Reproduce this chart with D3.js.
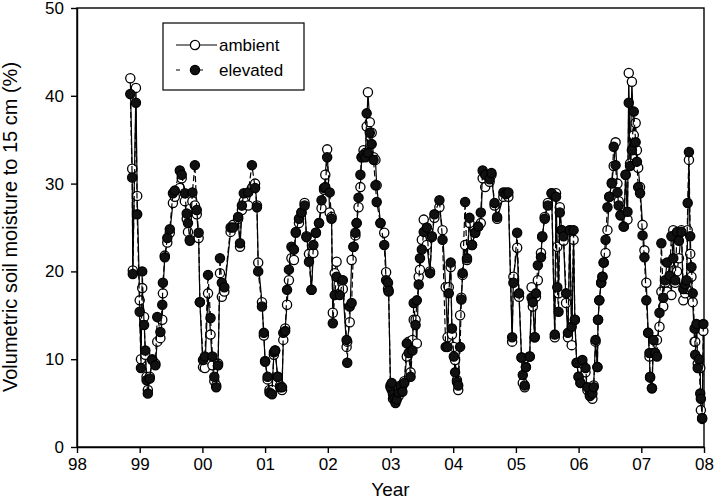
<!DOCTYPE html>
<html>
<head>
<meta charset="utf-8">
<script src="https://cdn.jsdelivr.net/npm/d3@7"></script>
<style>
  body { margin: 0; background: #fff; }
  svg { font-family: "Liberation Sans", Arial, sans-serif; }
</style>
</head>
<body>
<svg id="chart" width="714" height="501"></svg>
<script>
// Sampling dates (decimal year)
const dates = [
  1998.85, 1998.88, 1998.89, 1998.94, 1998.96,
  1999.00, 1999.02, 1999.04, 1999.07, 1999.09, 1999.11, 1999.13, 1999.16, 1999.20, 1999.25,
  1999.28, 1999.33, 1999.36, 1999.37, 1999.40, 1999.44, 1999.48, 1999.53, 1999.56, 1999.64,
  1999.67, 1999.72, 1999.75, 1999.77, 1999.80, 1999.84, 1999.88, 1999.91, 1999.94, 1999.96,
  2000.01, 2000.04, 2000.09, 2000.13, 2000.16, 2000.19, 2000.22, 2000.25, 2000.28, 2000.31,
  2000.35, 2000.45, 2000.49, 2000.57, 2000.60, 2000.63, 2000.66, 2000.73, 2000.79, 2000.84,
  2000.87, 2000.89, 2000.95, 2000.98,
  2001.00, 2001.04, 2001.07, 2001.11, 2001.14, 2001.16, 2001.20, 2001.24, 2001.27, 2001.29,
  2001.32, 2001.35, 2001.38, 2001.42, 2001.46, 2001.49, 2001.54, 2001.58, 2001.63, 2001.66,
  2001.70, 2001.74, 2001.77, 2001.81, 2001.86, 2001.90, 2001.94, 2001.96, 2001.99,
  2002.03, 2002.06, 2002.08, 2002.11, 2002.14, 2002.19, 2002.24, 2002.30, 2002.31, 2002.35,
  2002.38, 2002.41, 2002.44, 2002.46, 2002.49, 2002.52, 2002.54, 2002.57, 2002.60, 2002.62,
  2002.64, 2002.67, 2002.70, 2002.73, 2002.76, 2002.78, 2002.84, 2002.90, 2002.93, 2002.96,
  2002.97,
  2003.00, 2003.02, 2003.04, 2003.06, 2003.08, 2003.10, 2003.13, 2003.16, 2003.19, 2003.22,
  2003.26, 2003.29, 2003.32, 2003.35, 2003.37, 2003.40, 2003.42, 2003.45, 2003.47, 2003.50,
  2003.53, 2003.58, 2003.63, 2003.66, 2003.70, 2003.78, 2003.83, 2003.88, 2003.91, 2003.93,
  2003.96, 2003.98,
  2004.01, 2004.03, 2004.06, 2004.08, 2004.11, 2004.13, 2004.15, 2004.19, 2004.22, 2004.26,
  2004.30, 2004.35, 2004.40, 2004.44, 2004.47, 2004.51, 2004.58, 2004.61, 2004.66, 2004.70,
  2004.80, 2004.84, 2004.88, 2004.94, 2004.96,
  2005.02, 2005.05, 2005.09, 2005.11, 2005.14, 2005.16, 2005.22, 2005.25, 2005.27, 2005.30,
  2005.32, 2005.35, 2005.40, 2005.42, 2005.46, 2005.51, 2005.57, 2005.62, 2005.64, 2005.66,
  2005.68, 2005.70, 2005.73, 2005.76, 2005.80, 2005.83, 2005.86, 2005.89, 2005.92, 2005.94,
  2005.97,
  2006.00, 2006.03, 2006.06, 2006.11, 2006.14, 2006.18, 2006.22, 2006.24, 2006.27, 2006.30,
  2006.31, 2006.33, 2006.36, 2006.38, 2006.40, 2006.43, 2006.46, 2006.49, 2006.53, 2006.56,
  2006.59, 2006.62, 2006.64, 2006.67, 2006.72, 2006.75, 2006.78, 2006.80, 2006.82, 2006.85,
  2006.88, 2006.91, 2006.93, 2006.95, 2006.98,
  2007.02, 2007.05, 2007.08, 2007.11, 2007.13, 2007.14, 2007.17, 2007.19, 2007.22, 2007.25,
  2007.29, 2007.32, 2007.35, 2007.38, 2007.41, 2007.45, 2007.48, 2007.51, 2007.54, 2007.57,
  2007.60, 2007.64, 2007.67, 2007.70, 2007.72, 2007.74, 2007.76, 2007.78, 2007.80, 2007.82,
  2007.85, 2007.86, 2007.88, 2007.90, 2007.92, 2007.94, 2007.95, 2007.97, 2007.99
];

// Volumetric soil moisture (%), ambient CO2 plots
const ambient = [
  42.0, 31.7, 20.1, 40.9, 28.6,
  16.7, 10.0, 18.1, 14.8, 10.5, 8.0, 6.5, 8.0, 10.0, 9.5,
  12.0, 12.4, 14.5, 17.5, 21.8, 23.3, 24.4, 27.8, 28.5, 29.5,
  30.6, 28.0, 26.0, 24.5, 23.6, 28.0, 27.5, 26.5, 23.8, 16.5,
  9.1, 9.0, 17.5, 12.8, 9.3, 7.5, 7.0, 9.5, 19.8, 17.1,
  17.7, 24.5, 25.3, 26.0, 22.8, 27.0, 28.0, 27.5, 29.5, 30.0,
  27.5, 21.0, 16.5, 12.7,
  9.8, 7.7, 6.5, 6.5, 10.5, 11.0, 8.0, 7.0, 6.5, 12.2,
  13.5, 16.2, 19.0, 21.5, 21.3, 24.5, 25.5, 26.7, 27.8, 24.0,
  22.0, 17.9, 22.1, 24.4, 25.5, 27.2, 29.3, 31.0, 33.9,
  26.7, 26.2, 15.3, 19.8, 21.1, 17.5, 18.0, 11.4, 12.0, 14.2,
  21.3, 22.8, 24.1, 25.5, 27.3, 29.6, 33.0, 33.8, 33.5, 36.5,
  40.4, 37.0, 35.8, 33.0, 32.7, 29.8, 25.5, 24.4, 19.9, 18.0,
  17.7,
  7.0, 6.5, 5.5, 6.0, 5.2, 6.5, 5.8, 6.5, 7.0, 7.5,
  10.3, 12.0, 8.5, 12.2, 14.5, 14.5, 11.8, 19.4, 20.2, 23.6,
  25.9, 23.0, 20.0, 23.9, 26.1, 27.3, 24.7, 18.2, 12.5, 18.2,
  20.5, 12.8,
  11.4, 9.9, 7.6, 6.5, 15.0, 17.0, 19.6, 23.0, 21.3, 25.5,
  23.0, 24.4, 25.1, 25.5, 30.6, 29.6, 30.2, 31.0, 27.5, 26.0,
  28.5, 29.0, 28.5, 12.0, 19.4,
  22.7, 17.1, 10.2, 7.3, 6.8, 9.1, 10.3, 18.2, 16.0, 12.5,
  17.1, 19.0, 22.1, 23.9, 26.2, 27.8, 28.9, 12.5, 28.9, 22.8,
  17.5, 27.3, 24.7, 23.5, 16.4, 12.5, 24.7, 11.6, 23.6, 14.5,
  9.6,
  8.0, 7.3, 9.5, 8.5, 6.5, 6.0, 5.5, 7.0, 12.0, 9.1,
  14.5, 16.7, 18.7, 19.4, 21.0, 22.1, 24.7, 28.5, 30.1, 32.0,
  34.7, 30.0, 28.0, 26.4, 25.1, 31.0, 25.9, 42.6, 32.3, 41.6,
  35.5, 36.9, 33.8, 31.8, 29.6,
  25.3, 22.4, 18.7, 13.0, 10.3, 7.9, 6.7, 10.7, 10.7, 12.2,
  13.7, 17.7, 16.0, 18.7, 17.7, 21.0, 17.3, 24.7, 18.7, 20.0,
  21.5, 24.7, 16.7, 17.5, 18.0, 24.7, 32.7, 22.0, 19.4, 16.5,
  12.0, 12.0, 13.5, 9.5, 9.0, 9.0, 4.2, 3.2, 13.2
];

// Volumetric soil moisture (%), elevated CO2 plots
const elevated = [
  40.2, 30.7, 19.7, 39.2, 26.5,
  15.4, 9.0, 20.0, 13.9, 11.0, 7.6, 6.1, 7.8, 9.9, 9.3,
  14.8, 13.1, 16.2, 18.7, 21.6, 23.8, 24.8, 28.9, 29.2, 31.5,
  31.0, 28.9, 26.6, 25.5, 23.5, 29.0, 32.1, 27.0, 24.4, 16.5,
  9.9, 10.3, 19.6, 14.7, 10.3, 8.0, 6.8, 9.3, 21.5, 18.7,
  18.2, 25.0, 25.0, 26.2, 23.2, 27.5, 28.9, 29.0, 32.1, 29.5,
  27.3, 20.0, 16.0, 13.0,
  9.7, 8.0, 6.2, 6.0, 10.8, 11.0, 8.0, 6.8, 6.8, 13.0,
  13.2, 17.9, 20.2, 22.8, 22.5, 24.4, 26.0, 26.7, 27.5, 23.9,
  21.1, 17.9, 23.0, 24.4, 25.5, 28.1, 29.5, 29.6, 33.0,
  29.0, 26.0, 14.1, 17.3, 19.4, 17.3, 19.0, 12.2, 9.6, 16.0,
  16.4, 22.8, 24.4, 25.5, 28.4, 31.0, 33.0, 33.3, 33.0, 38.0,
  33.5, 35.8, 34.5, 32.7, 29.8, 27.9, 25.5, 23.0, 19.0, 18.7,
  17.8,
  6.8, 7.3, 6.0, 5.5, 5.0, 5.4, 6.2, 7.0, 6.3, 7.3,
  11.8, 10.7, 8.0, 11.0, 16.4, 13.9, 16.7, 18.5, 21.5, 22.5,
  24.5, 25.0, 19.8, 24.0, 26.5, 28.1, 23.6, 11.4, 11.4, 17.5,
  21.0, 13.5,
  10.3, 8.5, 7.4, 7.0, 11.4, 16.8, 19.8, 27.9, 21.5, 26.1,
  23.0, 24.4, 25.1, 26.7, 31.5, 31.0, 30.5, 31.2, 27.8, 26.2,
  29.0, 28.8, 29.0, 12.5, 18.7,
  24.4, 17.5, 10.2, 8.2, 7.0, 9.1, 10.3, 17.0, 16.5, 12.5,
  17.5, 20.7, 21.6, 24.0, 26.0, 27.5, 28.9, 12.8, 28.5, 18.2,
  15.4, 26.7, 24.7, 24.0, 17.5, 13.0, 24.7, 13.7, 24.7, 14.5,
  9.6,
  8.0, 7.3, 9.9, 9.0, 6.8, 5.8, 6.1, 6.8, 12.2, 9.1,
  14.5, 16.7, 18.7, 19.4, 21.0, 23.6, 27.3, 28.5, 30.0, 34.2,
  32.1, 29.0, 27.5, 26.4, 25.1, 31.0, 26.8, 39.2, 32.0, 33.8,
  38.2, 34.7, 32.5, 29.6, 28.9,
  24.1, 21.6, 16.7, 13.0, 10.7, 8.0, 6.7, 12.2, 10.7, 10.3,
  15.3, 23.2, 17.0, 19.0, 21.0, 19.5, 24.0, 21.5, 19.0, 24.5,
  23.5, 24.5, 18.0, 18.5, 19.0, 27.8, 33.6, 24.0, 20.5, 17.5,
  13.5, 10.5, 14.0, 9.0, 10.0, 6.1, 5.5, 3.3, 14.0
];

// Axis ticks
const xTickYears = [1998, 1999, 2000, 2001, 2002, 2003, 2004, 2005, 2006, 2007, 2008];
const xTickLabels = ["98", "99", "00", "01", "02", "03", "04", "05", "06", "07", "08"];
const yTicks = [0, 10, 20, 30, 40, 50];
const seriesNames = ["ambient", "elevated"];

const svg = d3.select("#chart");
const plotLeft = 77, plotRight = 704, plotTop = 8, plotBottom = 447;

const x = d3.scaleLinear().domain([1998, 2008]).range([plotLeft, plotRight]);
const y = d3.scaleLinear().domain([0, 50]).range([plotBottom, plotTop]);

// frame
svg.append("rect")
  .attr("x", plotLeft).attr("y", plotTop)
  .attr("width", plotRight - plotLeft).attr("height", plotBottom - plotTop)
  .attr("fill", "none").attr("stroke", "#000").attr("stroke-width", 1.4);

const xAxis = svg.append("g")
  .attr("transform", `translate(0,${plotBottom})`)
  .call(d3.axisBottom(x).tickValues(xTickYears)
    .tickFormat((d, i) => xTickLabels[i]).tickSize(6).tickSizeOuter(0).tickPadding(5));
xAxis.select(".domain").attr("stroke-width", 1.4);
xAxis.selectAll(".tick line").attr("stroke-width", 1.4);
xAxis.selectAll("text").attr("font-size", 17).attr("font-family", "Liberation Sans, Arial, sans-serif").attr("fill", "#000");

const yAxis = svg.append("g")
  .attr("transform", `translate(${plotLeft},0)`)
  .call(d3.axisLeft(y).tickValues(yTicks).tickSize(6).tickSizeOuter(0).tickPadding(7));
yAxis.select(".domain").attr("stroke-width", 1.4);
yAxis.selectAll(".tick line").attr("stroke-width", 1.4);
yAxis.selectAll("text").attr("font-size", 17).attr("font-family", "Liberation Sans, Arial, sans-serif").attr("fill", "#000");

// axis titles
svg.append("text")
  .attr("x", (plotLeft + plotRight) / 2).attr("y", 496)
  .attr("text-anchor", "middle").attr("font-size", 19)
  .text("Year");
svg.append("text")
  .attr("transform", `translate(17,227) rotate(-90)`)
  .attr("text-anchor", "middle").attr("font-size", 20)
  .text("Volumetric soil moisture to 15 cm (%)");

const ambData = dates.map((d, i) => ({ t: d, v: ambient[i] }));
const eleData = dates.map((d, i) => ({ t: d, v: elevated[i] }));

const line = d3.line().x(d => x(d.t)).y(d => y(d.v));
const r = 4.6;

// ambient: solid line, open circles
svg.append("path").datum(ambData)
  .attr("d", line).attr("fill", "none").attr("stroke", "#000").attr("stroke-width", 1.2);
svg.append("g").selectAll("circle").data(ambData).enter().append("circle")
  .attr("cx", d => x(d.t)).attr("cy", d => y(d.v)).attr("r", r)
  .attr("fill", "#fff").attr("stroke", "#000").attr("stroke-width", 1.3);

// elevated: dashed line, filled circles
svg.append("path").datum(eleData)
  .attr("d", line).attr("fill", "none").attr("stroke", "#000").attr("stroke-width", 1.2)
  .attr("stroke-dasharray", "6,3");
svg.append("g").selectAll("circle").data(eleData).enter().append("circle")
  .attr("cx", d => x(d.t)).attr("cy", d => y(d.v)).attr("r", r)
  .attr("fill", "#111").attr("stroke", "#000").attr("stroke-width", 1.3);

// legend
const legend = svg.append("g");
legend.append("rect")
  .attr("x", 163).attr("y", 23).attr("width", 141).attr("height", 67)
  .attr("fill", "#fff").attr("stroke", "#000").attr("stroke-width", 1.2);
const rows = legend.selectAll("g.row").data(seriesNames).enter().append("g")
  .attr("class", "row")
  .attr("transform", (d, i) => `translate(0,${45 + i * 25})`);
rows.append("line")
  .attr("x1", 176).attr("x2", 217).attr("y1", 0).attr("y2", 0)
  .attr("stroke", "#000").attr("stroke-width", 1.2)
  .attr("stroke-dasharray", (d, i) => i ? "4,15,0,0,4,0" : null);
rows.append("circle")
  .attr("cx", 195).attr("cy", 0).attr("r", r)
  .attr("fill", (d, i) => i ? "#111" : "#fff")
  .attr("stroke", "#000").attr("stroke-width", 1.3);
rows.append("text")
  .attr("x", 219).attr("y", 6).attr("font-size", 17)
  .text(d => d);
</script>
</body>
</html>
